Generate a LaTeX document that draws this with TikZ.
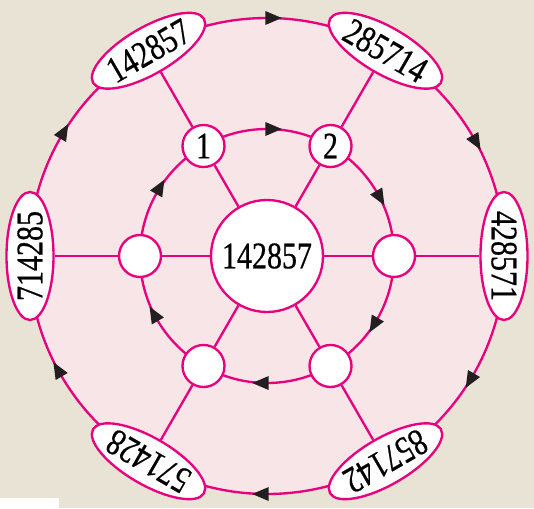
\documentclass[tikz,border=0pt]{standalone}
\usepackage{fontspec}
\setmainfont{Liberation Serif}
\newfontfamily\digitfont[FakeStretch=0.8,FakeBold=0.6]{Liberation Serif}
\usetikzlibrary{arrows.meta,shapes.geometric,decorations.markings}
\definecolor{PaperBeige}{RGB}{233,227,213}
\definecolor{RingPink}{RGB}{247,229,232}
\definecolor{CycleMagenta}{RGB}{230,0,126}
\definecolor{TipBlack}{RGB}{35,31,32}
\tikzset{
  link/.style={line width=2pt,draw=CycleMagenta},
  turnring/.style={line width=2pt,draw=CycleMagenta,postaction={decorate},
    decoration={markings,
      mark=between positions 0.0833 and 1 step 0.16667 with
        {\arrow[xshift=4.5mm]{Triangle[length=5mm,width=4mm,color=TipBlack]}}}},
  hub/.style={circle,draw=CycleMagenta,fill=white,line width=2pt,
    minimum size=3.36cm,inner sep=0pt,font=\digitfont\fontsize{32}{36}\selectfont},
  spot/.style={circle,draw=CycleMagenta,fill=white,line width=2pt,
    minimum size=1.26cm,inner sep=0pt,font=\digitfont\fontsize{32}{36}\selectfont},
  petal/.style={ellipse,draw=CycleMagenta,fill=white,line width=2pt,
    minimum width=3.84cm,minimum height=1.41cm,inner sep=0pt,
    font=\digitfont\fontsize{32}{36}\selectfont}
}
\begin{document}
\begin{tikzpicture}
  % page and disc
  \fill[PaperBeige] (-8.01,-7.56) rectangle (8.01,7.68);
  \useasboundingbox (-8.01,-7.56) rectangle (8.01,7.68);
  \fill[white] (-8.01,-7.56) rectangle (-6.24,-7.26);
  \fill[RingPink] (0,0) circle[radius=7.14];
  % the two turning rings, clockwise
  \draw[turnring] (0:7.14) arc[start angle=0,end angle=-360,radius=7.14];
  \draw[turnring] (0:3.81) arc[start angle=0,end angle=-360,radius=3.81];
  % nodes
  \node[hub] (hub) at (0,0) {142857};
  \node[spot] (s1) at (120:3.81) {1};
  \node[spot] (s2) at (60:3.81) {2};
  \node[spot] (s3) at (0:3.81) {};
  \node[spot] (s4) at (300:3.81) {};
  \node[spot] (s5) at (240:3.81) {};
  \node[spot] (s6) at (180:3.81) {};
  \node[petal,rotate=30] (p1) at (120:7.11) {142857};
  \node[petal,rotate=-30] (p2) at (60:7.11) {285714};
  \node[petal,rotate=-90] (p3) at (0:7.11) {428571};
  \node[petal,rotate=210] (p4) at (300:7.11) {857142};
  \node[petal,rotate=150] (p5) at (240:7.11) {571428};
  \node[petal,rotate=90] (p6) at (180:7.11) {714285};
  % spokes
  \draw[link] (hub) -- (s1) -- (p1);
  \draw[link] (hub) -- (s2) -- (p2);
  \draw[link] (hub) -- (s3) -- (p3);
  \draw[link] (hub) -- (s4) -- (p4);
  \draw[link] (hub) -- (s5) -- (p5);
  \draw[link] (hub) -- (s6) -- (p6);
\end{tikzpicture}
\end{document}
